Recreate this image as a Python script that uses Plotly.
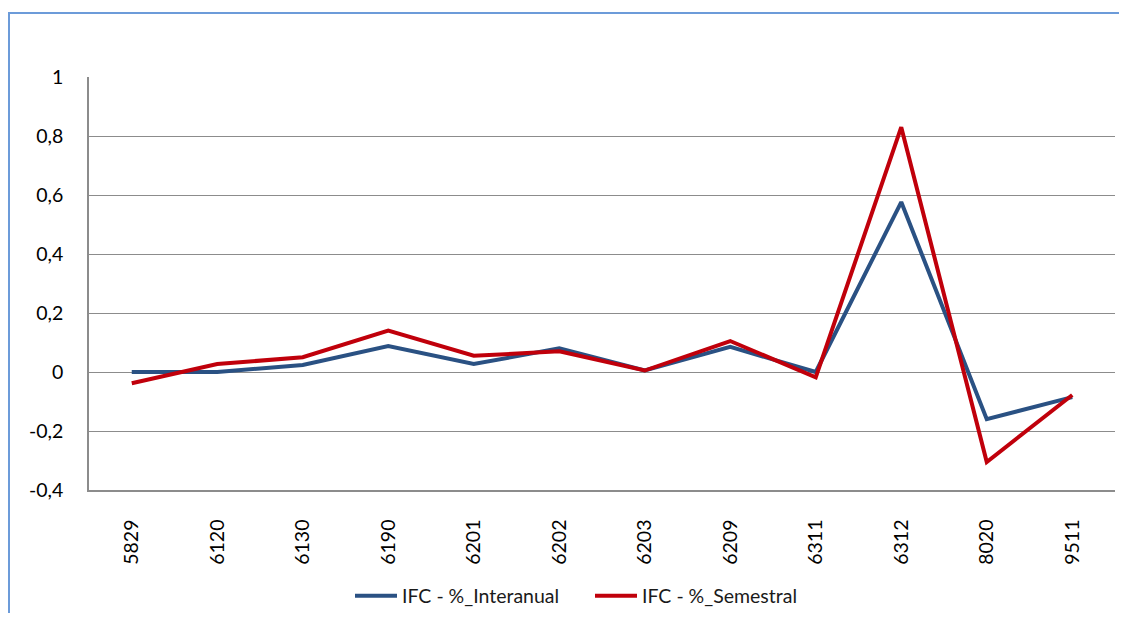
import plotly.graph_objects as go

categories = ["5829", "6120", "6130", "6190", "6201", "6202", "6203", "6209", "6311", "6312", "8020", "9511"]
interanual = [0.0, 0.0, 0.024, 0.088, 0.027, 0.08, 0.005, 0.085, 0.0, 0.576, -0.16, -0.085]
semestral = [-0.038, 0.027, 0.05, 0.14, 0.055, 0.07, 0.005, 0.105, -0.018, 0.83, -0.305, -0.078]
y_ticks = [-0.4, -0.2, 0, 0.2, 0.4, 0.6, 0.8, 1]
y_labels = ["-0,4", "-0,2", "0", "0,2", "0,4", "0,6", "0,8", "1"]

# page body has an 8px margin, so the figure is placed at (8, 8); keep it inside the window
W, H = 1111, 605
ml, mr, mt, mb = 81, 4, 69, 123
pw, ph = W - ml - mr, H - mt - mb

fig = go.Figure()
fig.add_trace(go.Scatter(x=categories, y=interanual, mode="lines", name="IFC - %_Interanual",
                         line=dict(color="#2A5183", width=4)))
fig.add_trace(go.Scatter(x=categories, y=semestral, mode="lines", name="IFC - %_Semestral",
                         line=dict(color="#C0000B", width=4)))

font = "Lato, 'Open Sans', sans-serif"
fs = 19.5
fig.update_layout(
    width=W, height=H,
    margin=dict(l=ml, r=mr, t=mt, b=mb, autoexpand=False),
    paper_bgcolor="white", plot_bgcolor="white",
    font=dict(family=font, size=fs, color="#000000"),
    showlegend=True,
    legend=dict(orientation="h", x=(342 - ml) / pw, xanchor="left", y=-(588 - (mt + ph)) / ph,
                yanchor="middle", font=dict(size=fs, color="#1a1a1a"), tracegroupgap=0,
                itemwidth=42, entrywidth=183, entrywidthmode="pixels"),
    xaxis=dict(type="category", showgrid=False, showline=True, linecolor="#8C8C8C", linewidth=1.5,
               tickangle=-90, ticks="", ticklabelstandoff=20, tickfont=dict(size=fs),
               range=[-0.5, len(categories) - 0.5], zeroline=False, automargin=False),
    yaxis=dict(range=[-0.4, 1.0], tickvals=y_ticks, ticktext=y_labels, showgrid=True,
               gridcolor="#8C8C8C", gridwidth=1, showline=True, linecolor="#8C8C8C", linewidth=1.5,
               ticks="", ticklabelstandoff=20, zeroline=False, tickfont=dict(size=fs), automargin=False),
)

# chart border (blue frame, top and left visible)
x0 = (1 - ml) / pw
y1 = (mt + ph - 5) / ph
fig.add_shape(type="rect", xref="paper", yref="paper", x0=x0, x1=1.5, y0=-1.0, y1=y1,
              line=dict(color="#6C9BD9", width=2), fillcolor="rgba(0,0,0,0)", layer="below")

fig.write_html("out.html")
